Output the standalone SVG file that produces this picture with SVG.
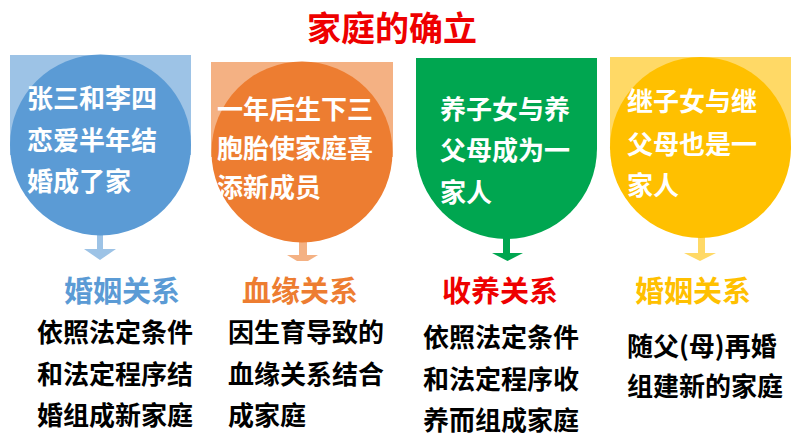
<svg xmlns="http://www.w3.org/2000/svg" width="794" height="447" viewBox="0 0 794 447">
<style>
text{font-family:"Noto Sans CJK SC","Noto Sans CJK TC",sans-serif;font-weight:bold}
.w{fill:#ffffff;font-size:26px}
.b{fill:#000000;font-size:26px}
.lab{font-size:29px;text-anchor:middle}
</style>
<rect width="794" height="447" fill="#ffffff"/>
<text x="392" y="41" fill="#ee0000" font-size="34" text-anchor="middle">家庭的确立</text>
<g id="connectors">
<rect x="97" y="234" width="6" height="15" fill="#9DC3E6"/>
<polygon points="84,249 116,249 100,260" fill="#9DC3E6"/>
<rect x="299" y="241" width="8" height="15" fill="#F4B183"/>
<polygon points="287,255 318,255 308,261 297,261" fill="#F4B183"/>
<rect x="503" y="238" width="7" height="15" fill="#00A650"/>
<polygon points="492,253 523,253 507.5,261" fill="#00A650"/>
<rect x="698" y="237" width="7" height="16" fill="#FFD966"/>
<polygon points="684,253 716,253 700,261" fill="#FFD966"/>
</g>
<g id="node-blue">
<rect x="10" y="55" width="181" height="100" fill="#9DC3E6"/>
<circle cx="100.5" cy="145" r="90.5" fill="#5B9BD5"/>
<text class="w" x="27" y="108">张三和李四</text>
<text class="w" x="27" y="150">恋爱半年结</text>
<text class="w" x="27" y="191">婚成了家</text>
</g>
<g id="node-orange">
<rect x="211" y="62" width="182" height="95" fill="#F4B183"/>
<circle cx="302" cy="152" r="90.5" fill="#ED7D31"/>
<text class="w" x="217" y="119">一年后生下三</text>
<text class="w" x="217" y="158">胞胎使家庭喜</text>
<text class="w" x="217" y="197">添新成员</text>
</g>
<g id="node-green">
<path d="M416,58 H597 V148.5 A90.5,90.5 0 0 1 416,148.5 Z" fill="#00A650"/>
<text class="w" x="440" y="119">养子女与养</text>
<text class="w" x="440" y="160">父母成为一</text>
<text class="w" x="440" y="202">家人</text>
</g>
<g id="node-yellow">
<rect x="610" y="57" width="181" height="93" fill="#FFD966"/>
<circle cx="700.5" cy="147.5" r="90.5" fill="#FFC000"/>
<text class="w" x="627" y="111">继子女与继</text>
<text class="w" x="627" y="154">父母也是一</text>
<text class="w" x="627" y="195">家人</text>
</g>
<g id="desc-blue">
<text class="lab" x="122" y="302" fill="#5B9BD5">婚姻关系</text>
<text class="b" x="37" y="342">依照法定条件</text>
<text class="b" x="37" y="384">和法定程序结</text>
<text class="b" x="37" y="425">婚组成新家庭</text>
</g>
<g id="desc-orange">
<text class="lab" x="300" y="302" fill="#ED7D31">血缘关系</text>
<text class="b" x="228" y="342">因生育导致的</text>
<text class="b" x="228" y="384">血缘关系结合</text>
<text class="b" x="228" y="425">成家庭</text>
</g>
<g id="desc-green">
<text class="lab" x="500" y="302" fill="#EE0000">收养关系</text>
<text class="b" x="423" y="347">依照法定条件</text>
<text class="b" x="423" y="389">和法定程序收</text>
<text class="b" x="423" y="430">养而组成家庭</text>
</g>
<g id="desc-yellow">
<text class="lab" x="693" y="302" fill="#FFC000">婚姻关系</text>
<text class="b" x="627" y="356">随父(母)再婚</text>
<text class="b" x="627" y="396">组建新的家庭</text>
</g>
</svg>
